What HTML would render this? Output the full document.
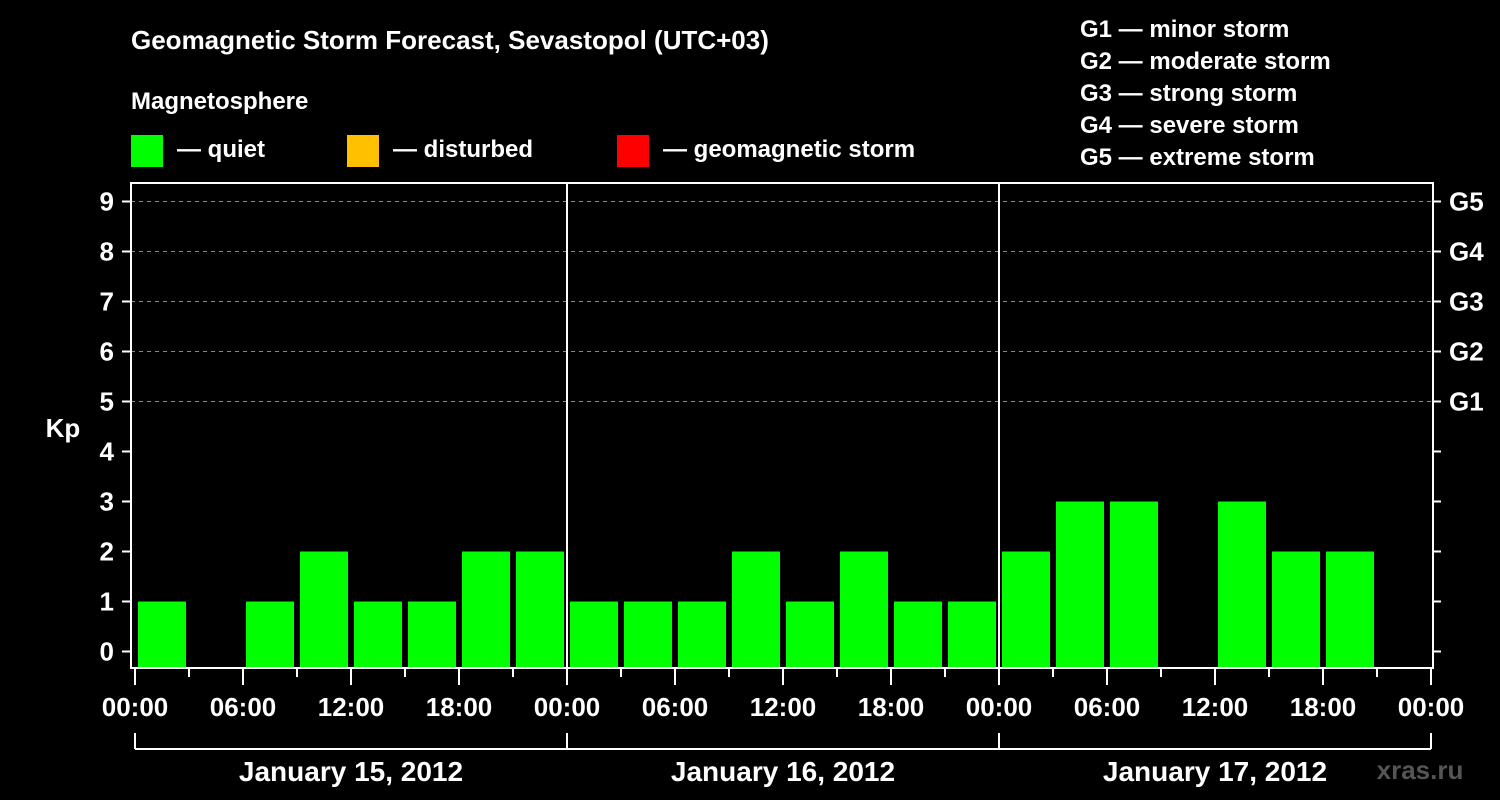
<!DOCTYPE html>
<html><head><meta charset="utf-8"><style>
body{margin:0;background:#000;}
svg{display:block;font-family:"Liberation Sans",Arial,sans-serif;font-weight:bold;}
</style></head><body>
<svg id="chart" width="1500" height="800" viewBox="0 0 1500 800">
<rect width="1500" height="800" fill="#000"/>
<text x="131" y="49" fill="#fff" font-size="26">Geomagnetic Storm Forecast, Sevastopol (UTC+03)</text>
<text x="131" y="109" fill="#fff" font-size="24">Magnetosphere</text>
<g><rect x="131" y="135" width="32" height="32" fill="#00ff00"/><text x="177" y="157" fill="#fff" font-size="24">— quiet</text></g>
<g><rect x="347" y="135" width="32" height="32" fill="#ffc000"/><text x="393" y="157" fill="#fff" font-size="24">— disturbed</text></g>
<g><rect x="617" y="135" width="32" height="32" fill="#ff0000"/><text x="663" y="157" fill="#fff" font-size="24">— geomagnetic storm</text></g>
<g fill="#fff" font-size="24">
<text x="1080" y="37">G1 — minor storm</text>
<text x="1080" y="69">G2 — moderate storm</text>
<text x="1080" y="101">G3 — strong storm</text>
<text x="1080" y="133">G4 — severe storm</text>
<text x="1080" y="165">G5 — extreme storm</text>
</g>
<text x="63" y="437" fill="#fff" font-size="26" text-anchor="middle">Kp</text>
<text x="1420" y="779" fill="#555" font-size="26" text-anchor="middle">xras.ru</text>
<g id="grid"></g><g id="bars"></g><g id="axes"></g>
</svg>
<script>
const days = ["January 15, 2012","January 16, 2012","January 17, 2012"];
const kpValues = [1,null,1,2,1,1,2,2, 1,1,1,2,1,2,1,1, 2,3,3,null,3,2,2,null];
const yTicks = [0,1,2,3,4,5,6,7,8,9];
const gLabels = ["G1","G2","G3","G4","G5"];
const gLevels = [5,6,7,8,9];
const hourLabels = ["00:00","06:00","12:00","18:00"];

const NS="http://www.w3.org/2000/svg";
const L=131,R=1433,T=183,B=668,X0=135,DAYW=432;
const y=v=>651.5-v*50;
const x=h=>X0+h*(DAYW/24);
function mk(tag,attrs,parent){const e=document.createElementNS(NS,tag);for(const k in attrs)e.setAttribute(k,attrs[k]);parent.appendChild(e);return e;}
const grid=document.getElementById('grid'),bars=document.getElementById('bars'),axes=document.getElementById('axes');
gLevels.forEach((lv,i)=>{
  const ln=mk('line',{x1:L,x2:R,y1:y(lv),y2:y(lv),stroke:'#888','stroke-dasharray':'4,4','stroke-width':1},grid);
  
  
  mk('line',{x1:R,x2:R+8,y1:y(lv),y2:y(lv),stroke:'#fff','stroke-width':2},axes);
  const t=mk('text',{x:1449,y:y(lv)+9,fill:'#fff','font-size':26},axes);t.textContent=gLabels[i];
  
  
});
kpValues.forEach((v,i)=>{
  if(v===null)return;
  const col=v>=5?'#ff0000':(v>=4?'#ffc000':'#00ff00');
  const r=mk('rect',{x:x(i*3)+3,y:y(v),width:48,height:B-1-y(v),fill:col},bars);
  
  
});
// plot frame
const fr=mk('rect',{x:L,y:T,width:R-L,height:B-T,fill:'none',stroke:'#fff','stroke-width':2},axes);


yTicks.forEach(v=>{
  mk('line',{x1:122,x2:L,y1:y(v),y2:y(v),stroke:'#fff','stroke-width':2},axes);
  if(!gLevels.includes(v)) mk('line',{x1:R,x2:R+8,y1:y(v),y2:y(v),stroke:'#fff','stroke-width':2},axes);
  const t=mk('text',{x:114,y:y(v)+9,fill:'#fff','font-size':26,'text-anchor':'end'},axes);t.textContent=v;
  
  
});
for(let d=0;d<days.length;d++){
  if(d>0){const s=mk('line',{x1:x(d*24),x2:x(d*24),y1:T,y2:B,stroke:'#fff','stroke-width':2},axes);
    
    }
  for(let k=0;k<8;k++){const h=d*24+k*3;const major=k%2===0;
    mk('line',{x1:x(h),x2:x(h),y1:B,y2:major?685:677,stroke:'#fff','stroke-width':2},axes);}
  mk('line',{x1:x(d*24),x2:x(d*24),y1:733,y2:749,stroke:'#fff','stroke-width':2},axes);
  const br=mk('line',{x1:x(d*24),x2:x(d*24+24),y1:749,y2:749,stroke:'#fff','stroke-width':2},axes);
  
  
  const dl=mk('text',{x:x(d*24+12),y:781,fill:'#fff','font-size':28,'text-anchor':'middle'},axes);dl.textContent=days[d];
  
  
}
mk('line',{x1:x(72),x2:x(72),y1:B,y2:685,stroke:'#fff','stroke-width':2},axes);
mk('line',{x1:x(72),x2:x(72),y1:733,y2:749,stroke:'#fff','stroke-width':2},axes);
for(let h=0;h<=72;h+=6){
  const t=mk('text',{x:x(h),y:716,fill:'#fff','font-size':26,'text-anchor':'middle'},axes);
  t.textContent=hourLabels[(h/6)%4];
  
  
}
</script>
</body></html>
